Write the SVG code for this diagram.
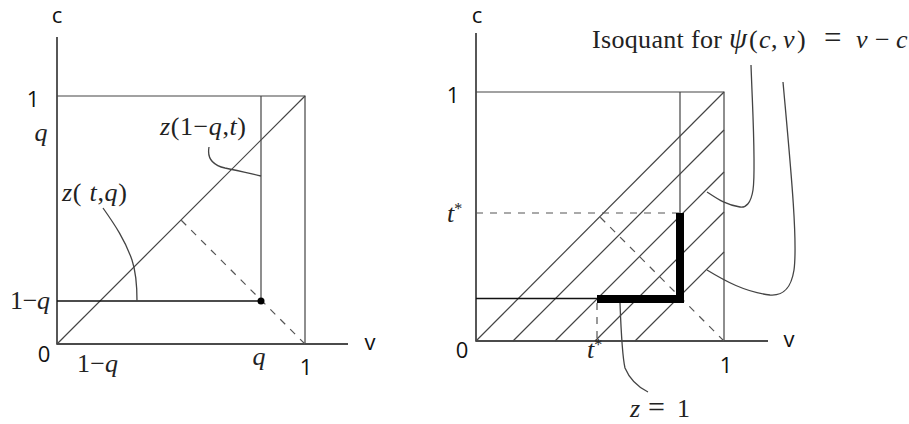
<svg xmlns="http://www.w3.org/2000/svg" width="909" height="424" viewBox="0 0 909 424">
<style>
.axis{stroke:#111;stroke-width:1.4;fill:none}
.thin{stroke:#444;stroke-width:1.2;fill:none}
.dash{stroke:#555;stroke-width:1.2;fill:none;stroke-dasharray:7 7}
.lead{stroke:#444;stroke-width:1.3;fill:none}
.bold{stroke:#000;stroke-width:8;fill:none;stroke-linecap:square}
.sans{font-family:"Open Sans","Liberation Sans",Arial,sans-serif;font-size:22px;fill:#111}
.serif{font-family:"Liberation Serif","Times New Roman",serif;font-size:26px;fill:#222}
.it{font-style:italic}
</style>
<rect width="909" height="424" fill="#fff"/>

<g id="left-panel">
  <g id="left-axes">
    <path class="axis" d="M57,37 V344 H348"/>
    <path class="thin" d="M57,96 H305 V344"/>
  </g>
  <g id="connectors-left">
    <path class="thin" d="M57,344 L305,96"/>
    <path class="thin" d="M261,96 V301"/>
    <path class="axis" d="M57,301 H261"/>
    <path class="dash" d="M305,344 L181,220"/>
    <path class="lead" d="M209,147 C207,158 212,165 225,168 C240,171 252,174 261,176"/>
    <path class="lead" d="M103,208 C115,225 125,240 132,260 C137,275 137,290 137,301"/>
  </g>
  <g id="left-point"><circle cx="261" cy="301" r="3.5" fill="#000"/></g>
  <g id="left-labels">
    <text class="sans" x="57" y="23" text-anchor="middle">c</text>
    <text class="sans" x="33" y="107" text-anchor="middle">1</text>
    <text class="sans" x="44" y="362" text-anchor="middle">0</text>
    <text class="sans" x="306" y="375" text-anchor="middle">1</text>
    <text class="sans" x="370" y="350" text-anchor="middle">v</text>
    <text class="serif it" x="41" y="141" text-anchor="middle">q</text>
    <text class="serif" x="10" y="309" textLength="40">1−<tspan class="it">q</tspan></text>
    <text class="serif" x="77" y="372" textLength="41">1−<tspan class="it">q</tspan></text>
    <text class="serif it" x="259" y="365" text-anchor="middle">q</text>
    <text class="serif" x="160" y="135" textLength="86"><tspan class="it">z</tspan>(1−<tspan class="it">q</tspan>,<tspan class="it">t</tspan>)</text>
    <text class="serif" x="62" y="201" textLength="65"><tspan class="it">z</tspan>( <tspan class="it">t</tspan>,<tspan class="it">q</tspan>)</text>
  </g>
</g>

<g id="right-panel">
  <g id="right-axes">
    <path class="axis" d="M476,33 V341 H768"/>
    <path class="thin" d="M476,92 H724 V341"/>
  </g>
  <g id="connectors-right">
    <path class="thin" d="M476,341 L724,92"/>
    <path class="thin" d="M513,341 L724,130"/>
    <path class="thin" d="M555,341 L724,172"/>
    <path class="thin" d="M595,341 L724,212"/>
    <path class="thin" d="M635,341 L724,252"/>
    <path class="thin" d="M680,92 V213"/>
    <path class="axis" d="M476,298.5 H597"/>
    <path class="dash" d="M476,213 H680"/>
    <path class="dash" d="M597,303 V341"/>
    <path class="dash" d="M724,341 L600,217"/>
    <path class="lead" d="M751,65 C753,120 756,170 753,190 C751,203 746,208 740,207 C725,205 715,197 707,192"/>
    <path class="lead" d="M783,82 C790,160 798,240 794,270 C791,289 783,296 770,295 C745,292 725,281 707,270"/>
    <path class="lead" d="M620,303 C621,330 622,355 625,368 C630,380 640,388 648,392"/>
  </g>
  <g id="z-equals-1-path"><path class="bold" d="M601,299 H680 V217"/></g>
  <g id="right-labels">
    <text class="sans" x="477" y="23" text-anchor="middle">c</text>
    <text class="sans" x="453" y="103" text-anchor="middle">1</text>
    <text class="sans" x="462" y="358" text-anchor="middle">0</text>
    <text class="sans" x="726" y="373" text-anchor="middle">1</text>
    <text class="sans" x="789" y="347" text-anchor="middle">v</text>
    <text class="serif" x="447" y="222"><tspan class="it">t</tspan><tspan font-size="16" dy="-8">*</tspan></text>
    <text class="serif" x="587" y="358"><tspan class="it">t</tspan><tspan font-size="16" dy="-8">*</tspan></text>
    <text class="serif" x="630" y="417"><tspan class="it">z</tspan><tspan x="648" font-size="30">=</tspan><tspan x="677">1</tspan></text>
    <text class="serif" y="48"><tspan x="592" textLength="130">Isoquant for</tspan><tspan x="729" class="it" font-size="29">ψ</tspan><tspan x="749">(</tspan><tspan x="759" class="it">c</tspan><tspan x="771">,</tspan><tspan x="783" class="it">v</tspan><tspan x="797">)</tspan><tspan x="824" font-size="31">=</tspan><tspan x="856" class="it">v</tspan><tspan x="875">−</tspan><tspan x="896" class="it">c</tspan></text>
  </g>
</g>
</svg>
